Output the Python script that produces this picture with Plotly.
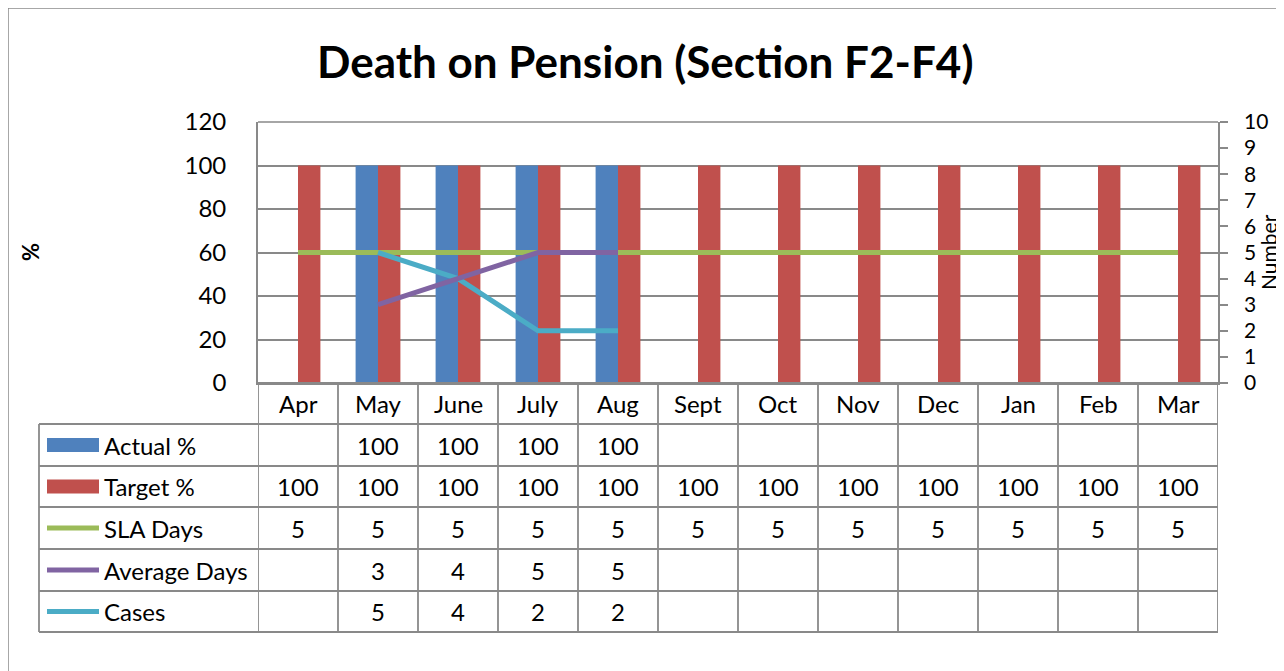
import plotly.graph_objects as go

# ---- data ----
months = ["Apr", "May", "June", "July", "Aug", "Sept", "Oct", "Nov", "Dec", "Jan", "Feb", "Mar"]
actual_pct = [None, 100, 100, 100, 100, None, None, None, None, None, None, None]
target_pct = [100, 100, 100, 100, 100, 100, 100, 100, 100, 100, 100, 100]
sla_days = [5, 5, 5, 5, 5, 5, 5, 5, 5, 5, 5, 5]
average_days = [None, 3, 4, 5, 5, None, None, None, None, None, None, None]
cases = [None, 5, 4, 2, 2, None, None, None, None, None, None, None]
y_left_ticks = [0, 20, 40, 60, 80, 100, 120]
y_right_ticks = list(range(0, 11))

BLUE = "#4F81BD"
RED = "#C0504D"
GREEN = "#9BBB59"
PURPLE = "#8064A2"
CYAN = "#4BACC6"
GRID = "#898989"
FONT = "Lato"

OFF = 8  # page body margin
W, H = 1284 - OFF, 671 - OFF
PL, PR, PT, PB = 258, 1218, 122, 383  # plot area in page px


def px_x(px):
    return (px - PL) / (PR - PL)


def px_y(py):
    return (PB - py) / (PB - PT)


fig = go.Figure()
fig.add_trace(go.Bar(x=months, y=actual_pct, name="Actual %", marker=dict(color=BLUE, line=dict(width=0)), yaxis="y"))
fig.add_trace(go.Bar(x=months, y=target_pct, name="Target %", marker=dict(color=RED, line=dict(width=0)), yaxis="y"))
fig.add_trace(go.Scatter(x=months, y=sla_days, name="SLA Days", mode="lines", line=dict(color=GREEN, width=5), yaxis="y2"))
fig.add_trace(go.Scatter(x=months, y=cases, name="Cases", mode="lines", line=dict(color=CYAN, width=5), yaxis="y2"))
fig.add_trace(go.Scatter(x=months, y=average_days, name="Average Days", mode="lines", line=dict(color=PURPLE, width=5), yaxis="y2"))

shapes = []
annotations = []

# outer chart border
shapes.append(dict(type="rect", xref="paper", yref="paper", x0=px_x(8), x1=px_x(1300), y0=px_y(700), y1=px_y(8),
                   line=dict(color="#8a8a8a", width=1.5), fillcolor="rgba(0,0,0,0)", layer="below"))
# top border of plot area
shapes.append(dict(type="line", xref="paper", yref="paper", x0=0, x1=1, y0=1, y1=1, line=dict(color=GRID, width=1.5)))

# data table
row_edges = [383, 424, 466, 507, 549, 591, 632]
n = len(months)
for i in range(n + 1):
    shapes.append(dict(type="line", xref="x", yref="paper", x0=i - 0.5, x1=i - 0.5,
                       y0=px_y(row_edges[0]), y1=px_y(row_edges[-1]), line=dict(color=GRID, width=1.8)))
for j, ry in enumerate(row_edges):
    x0 = px_x(258) if j == 0 else px_x(39)
    shapes.append(dict(type="line", xref="paper", yref="paper", x0=x0, x1=1,
                       y0=px_y(ry), y1=px_y(ry), line=dict(color=GRID, width=1.8)))
shapes.append(dict(type="line", xref="paper", yref="paper", x0=px_x(39), x1=px_x(39),
                   y0=px_y(row_edges[1]), y1=px_y(row_edges[-1]), line=dict(color=GRID, width=1.8)))

FS = 24
hy = (row_edges[0] + row_edges[1]) / 2
for m in months:
    annotations.append(dict(x=m, y=px_y(hy), xref="x", yref="paper", text=m, showarrow=False,
                            font=dict(family=FONT, size=FS, color="black"), xanchor="center", yanchor="middle"))

rows = [
    ("Actual %", actual_pct, BLUE, "bar"),
    ("Target %", target_pct, RED, "bar"),
    ("SLA Days", sla_days, GREEN, "line"),
    ("Average Days", average_days, PURPLE, "line"),
    ("Cases", cases, CYAN, "line"),
]
for k, (label, vals, color, kind) in enumerate(rows):
    cy = (row_edges[k + 1] + row_edges[k + 2]) / 2
    if kind == "bar":
        shapes.append(dict(type="rect", xref="paper", yref="paper", x0=px_x(47), x1=px_x(99),
                           y0=px_y(cy + 7), y1=px_y(cy - 7), fillcolor=color, line=dict(width=0)))
    else:
        shapes.append(dict(type="line", xref="paper", yref="paper", x0=px_x(47), x1=px_x(99),
                           y0=px_y(cy), y1=px_y(cy), line=dict(color=color, width=5)))
    annotations.append(dict(x=px_x(102), y=px_y(cy), xref="paper", yref="paper", text=label, showarrow=False,
                            font=dict(family=FONT, size=FS, color="black"), xanchor="left", yanchor="middle"))
    for m, v in zip(months, vals):
        if v is None:
            continue
        annotations.append(dict(x=m, y=px_y(cy), xref="x", yref="paper", text=str(v), showarrow=False,
                                font=dict(family=FONT, size=FS, color="black"), xanchor="center", yanchor="middle"))

annotations.append(dict(x=px_x(645), y=px_y(61), xref="paper", yref="paper", text="<b>Death on Pension (Section F2-F4)</b>",
                        showarrow=False, font=dict(family=FONT, size=44, color="black"), xanchor="center", yanchor="middle"))
annotations.append(dict(x=px_x(30), y=px_y(252), xref="paper", yref="paper", text="<b>%</b>", textangle=-90,
                        showarrow=False, font=dict(family=FONT, size=22, color="black"), xanchor="center", yanchor="middle"))
annotations.append(dict(x=px_x(1268), y=px_y(252), xref="paper", yref="paper", text="Number", textangle=-90,
                        showarrow=False, font=dict(family=FONT, size=21, color="black"), xanchor="center", yanchor="middle",
                        borderpad=0))

fig.update_layout(
    width=W, height=H,
    margin=dict(l=PL - OFF, r=W - (PR - OFF), t=PT - OFF, b=H - (PB - OFF)),
    paper_bgcolor="white", plot_bgcolor="white",
    barmode="group", bargap=0.44, bargroupgap=0,
    showlegend=False,
    font=dict(family=FONT, size=FS, color="black"),
    xaxis=dict(type="category", range=[-0.5, n - 0.5], showgrid=False, showline=True, linecolor=GRID, linewidth=1.8,
               showticklabels=False, ticks=""),
    yaxis=dict(range=[0, 120], tickvals=y_left_ticks, showgrid=True, gridcolor=GRID, gridwidth=1.5,
               showline=True, linecolor=GRID, linewidth=1.8, ticks="", ticklabelstandoff=25,
               tickfont=dict(family=FONT, size=FS, color="black"), zeroline=False),
    yaxis2=dict(range=[0, 10], tickvals=y_right_ticks, overlaying="y", side="right", showgrid=False,
                showline=True, linecolor=GRID, linewidth=1.8, ticks="outside", ticklen=8, tickcolor=GRID,
                tickwidth=1.5, ticklabelstandoff=12, tickfont=dict(family=FONT, size=21, color="black"), zeroline=False),
    shapes=shapes,
    annotations=annotations,
)

fig.write_html("out.html")
